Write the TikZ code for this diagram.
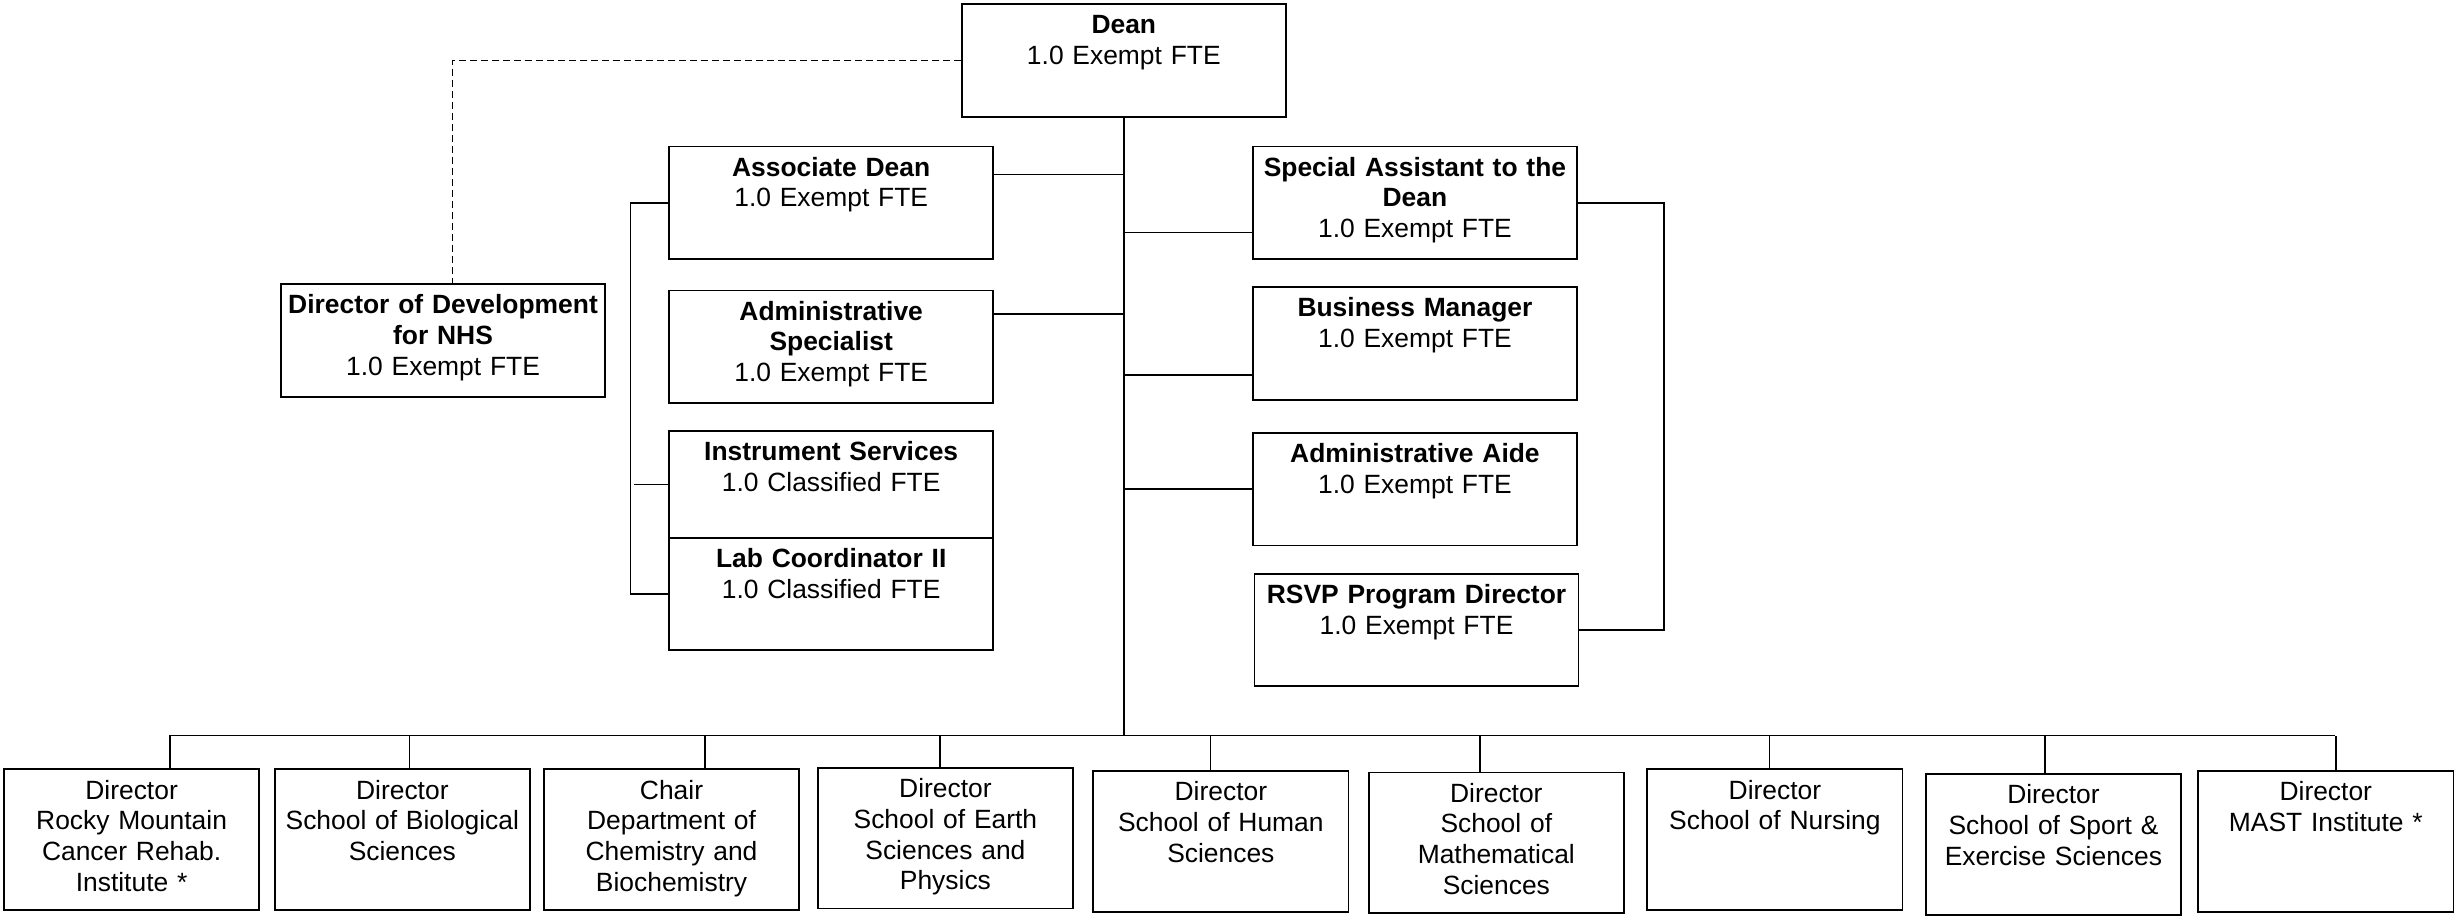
\documentclass[tikz,border=0pt]{standalone}
\usepackage{fontspec}
\setmainfont{Liberation Sans}

\begin{document}
\begin{tikzpicture}
[x=0.025cm,y=-0.025cm,line width=0.7pt,%
  every node/.style={draw,thick,anchor=north west,align=center,inner sep=0pt,%
    text height=13.5pt,font=\fontsize{12}{14}\selectfont},%
  staff/.style={text width=5.175cm,text depth=37.7pt},%
  school/.style={text width=4.075cm,text depth=50.5pt}]
\useasboundingbox (0,0) rectangle (1568,585);
% dean's office
\node[staff] (dean) at (614,2) {\textbf{Dean}\\1.0 Exempt FTE};
\node[staff] (devnhs) at (179,181) {\textbf{Director of Development}\\\textbf{for NHS}\\1.0 Exempt FTE};
\node[staff] (assoc) at (427,93) {\textbf{Associate Dean}\\1.0 Exempt FTE};
\node[staff] (adminspec) at (427,185) {\textbf{Administrative}\\\textbf{Specialist}\\1.0 Exempt FTE};
\node[staff,text depth=34.9pt] (instr) at (427,275) {\textbf{Instrument Services}\\1.0 Classified FTE};
\node[staff] (labco) at (427,343) {\textbf{Lab Coordinator II}\\1.0 Classified FTE};
\node[staff] (specasst) at (800,93) {\textbf{Special Assistant to the}\\\textbf{Dean}\\1.0 Exempt FTE};
\node[staff] (busmgr) at (800,183) {\textbf{Business Manager}\\1.0 Exempt FTE};
\node[staff] (aide) at (800,276) {\textbf{Administrative Aide}\\1.0 Exempt FTE};
\node[staff] (rsvp) at (801,366) {\textbf{RSVP Program Director}\\1.0 Exempt FTE};
% schools
\node[school] (rmcri) at (2,491) {Director\\Rocky Mountain\\Cancer Rehab.\\Institute *};
\node[school] (bio) at (175,491) {Director\\School of Biological\\Sciences};
\node[school] (chem) at (347,491) {Chair\\Department of\\Chemistry and\\Biochemistry};
\node[school] (earth) at (522,490) {Director\\School of Earth\\Sciences and\\Physics};
\node[school] (human) at (698,492) {Director\\School of Human\\Sciences};
\node[school] (math) at (874,493) {Director\\School of\\Mathematical\\Sciences};
\node[school] (nursing) at (1052,491) {Director\\School of Nursing};
\node[school] (sport) at (1230,494) {Director\\School of Sport \&\\Exercise Sciences};
\node[school] (mast) at (1404,492) {Director\\MAST Institute *};
\coordinate (busL) at (108,470);
\coordinate (busR) at (1492,470);
% lines
\draw (dean) -- (dean.south |- busL);
\draw[thick] (busL) -- (busR);
\foreach \n/\dx in {rmcri/24.5,bio/4.5,chem/21.5,earth/-3.5,human/-6.5,%
  math/-10.5,nursing/-3.5,sport/-5.5,mast/6.5}
  \draw ([xshift=\dx*0.025cm]\n.north) -- ([xshift=\dx*0.025cm]\n.north |- busL);
\draw ([yshift=0.45cm]assoc.east) -- ([yshift=0.45cm]assoc.east -| dean.south);
\draw ([yshift=0.525cm]adminspec.east) -- ([yshift=0.525cm]adminspec.east -| dean.south);
\draw ([yshift=-0.475cm]specasst.west) -- ([yshift=-0.475cm]specasst.west -| dean.south);
\draw ([yshift=-0.5cm]busmgr.west) -- ([yshift=-0.5cm]busmgr.west -| dean.south);
\draw (aide.west) -- (aide.west -| dean.south);
\draw (assoc.west) -- ++(-24,0) |- (labco.west);
\draw (instr.west) -- ++(-22,0);
\draw (specasst.east) -- ++(55,0) |- (rsvp.east);
\draw[dash pattern=on 3pt off 2pt] (dean.west) -| ([xshift=0.15cm]devnhs.north);
\end{tikzpicture}
\end{document}
